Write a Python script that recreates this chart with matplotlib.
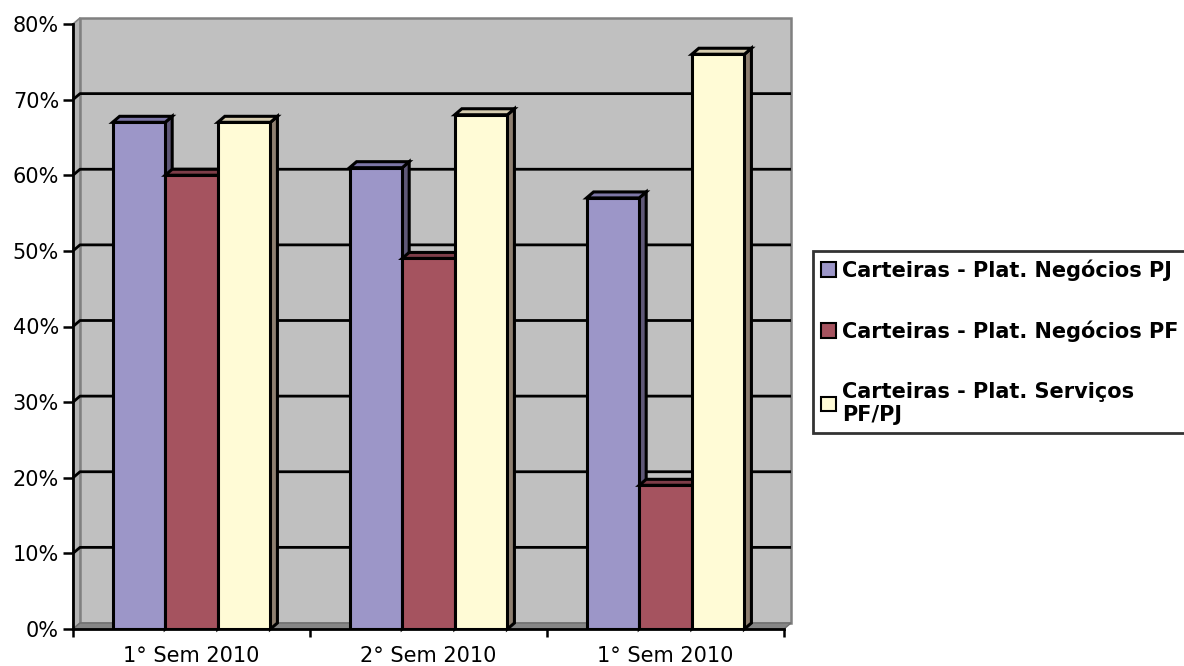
import numpy as np
import matplotlib
matplotlib.use("Agg")
import matplotlib.pyplot as plt
from matplotlib.patches import Polygon

# category labels and series values (fractions)
categories = ["1° Sem 2010", "2° Sem 2010", "1° Sem 2010"]
series_names = ["Carteiras - Plat. Negócios PJ",
                "Carteiras - Plat. Negócios PF",
                "Carteiras - Plat. Serviços\nPF/PJ"]
negocios_pj = [0.67, 0.61, 0.57]
negocios_pf = [0.60, 0.49, 0.19]
servicos = [0.67, 0.68, 0.76]
y_ticks = [0.0, 0.1, 0.2, 0.3, 0.4, 0.5, 0.6, 0.7, 0.8]
y_labels = ["0%", "10%", "20%", "30%", "40%", "50%", "60%", "70%", "80%"]

front_colors = ["#9C96C8", "#A5535F", "#FFFBD6"]
top_colors = ["#7C76A6", "#7E3D48", "#D6CCB0"]
side_colors = ["#5F5878", "#6A2F38", "#8E7F70"]

W, H = 1184, 666
fig = plt.figure(figsize=(W / 100, H / 100), dpi=100)
ax_l, ax_r, ax_t, ax_b = 73, 784, 24, 629
ax = fig.add_axes([ax_l / W, 1 - ax_b / H, (ax_r - ax_l) / W, (ax_b - ax_t) / H])
ax.set_xlim(-0.5, 2.5)
ax.set_ylim(0, 0.8)

# depth of the pseudo-3D effect, converted from pixels to data units
dx = 7 * 3.0 / (ax_r - ax_l)
dy = 6 * 0.8 / (ax_b - ax_t)
x0, x1 = -0.5, 2.5

# walls and floor
ax.add_patch(Polygon([(x0 + dx, dy), (x1 + dx, dy), (x1 + dx, 0.8 + dy), (x0 + dx, 0.8 + dy)],
                     closed=True, facecolor="#C0C0C0", edgecolor="#808080", lw=1.8,
                     zorder=0, clip_on=False))
ax.add_patch(Polygon([(x0, 0), (x0 + dx, dy), (x0 + dx, 0.8 + dy), (x0, 0.8)],
                     closed=True, facecolor="#B4B4B4", edgecolor="#808080", lw=1.2,
                     zorder=0.5, clip_on=False))
ax.add_patch(Polygon([(x0, 0), (x1, 0), (x1 + dx, dy), (x0 + dx, dy)],
                     closed=True, facecolor="#868686", edgecolor="#6E6E6E", lw=1.0,
                     zorder=0.5, clip_on=False))

# gridlines on the back wall
for v in y_ticks[1:-1]:
    ax.plot([x0, x0 + dx, x1 + dx], [v, v + dy, v + dy], color="black", lw=2.0,
            zorder=1, clip_on=False, solid_capstyle="butt")

x = np.arange(len(categories))
width = 0.222
all_series = [negocios_pj, negocios_pf, servicos]
handles = []
for k, vals in enumerate(all_series):
    xs = x + (k - 1) * width
    bars = ax.bar(xs, vals, width, color=front_colors[k], edgecolor="black",
                  linewidth=2.2, zorder=4 + 2 * k, label=series_names[k])
    handles.append(bars)
    for xc, v in zip(xs, vals):
        left, right = xc - width / 2, xc + width / 2
        top = Polygon([(left, v), (right, v), (right + dx, v + dy), (left + dx, v + dy)],
                      closed=True, facecolor=top_colors[k], edgecolor="black",
                      lw=2.2, zorder=3 + 2 * k, clip_on=False, joinstyle="miter")
        side = Polygon([(right, 0), (right, v), (right + dx, v + dy), (right + dx, dy)],
                       closed=True, facecolor=side_colors[k], edgecolor="black",
                       lw=2.2, zorder=3 + 2 * k, clip_on=False, joinstyle="miter")
        ax.add_patch(side)
        ax.add_patch(top)

# axes
for s in ["top", "right"]:
    ax.spines[s].set_visible(False)
for s in ["left", "bottom"]:
    ax.spines[s].set_linewidth(2.0)
    ax.spines[s].set_zorder(20)

ax.set_yticks(y_ticks)
ax.set_yticklabels(y_labels, fontsize=15, family="DejaVu Sans")
ax.tick_params(axis="y", direction="out", length=7, width=1.8, pad=3)

ax.set_xticks([-0.5, 0.5, 1.5, 2.5])
ax.set_xticklabels([])
ax.tick_params(axis="x", which="major", direction="out", length=6, width=1.8)
ax.set_xticks(x, minor=True)
ax.set_xticklabels(categories, minor=True, fontsize=15, family="DejaVu Sans")
ax.tick_params(axis="x", which="minor", length=0, pad=12)

leg = ax.legend(handles=handles, labels=series_names, loc="upper left",
                bbox_to_anchor=(813 / W, 1 - 251 / H), bbox_transform=fig.transFigure,
                prop={"family": "DejaVu Sans", "weight": "bold", "size": 15},
                frameon=True, fancybox=False, borderpad=0.4, labelspacing=1.9,
                handlelength=0.7, handleheight=0.7, handletextpad=0.3,
                borderaxespad=0)
leg.get_frame().set_edgecolor("black")
leg.get_frame().set_linewidth(2.0)
for p in leg.get_patches():
    p.set_linewidth(1.5)

fig.savefig("out.png", dpi=100)
